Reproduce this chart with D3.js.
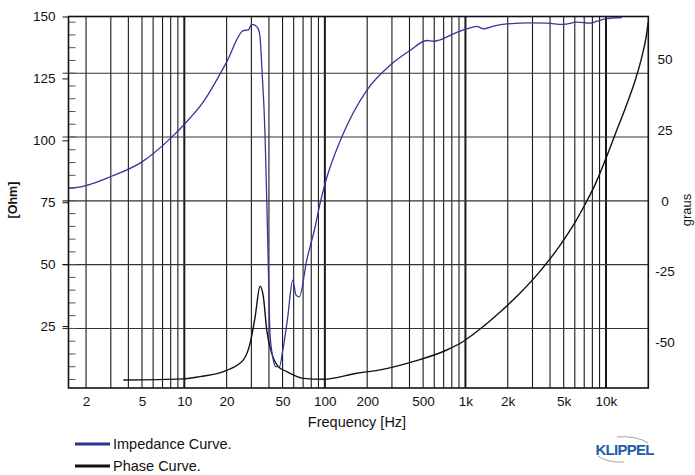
<!DOCTYPE html>
<html>
<head>
<meta charset="utf-8">
<script src="https://cdn.jsdelivr.net/npm/d3@7/dist/d3.min.js"></script>
<style>
  body { margin: 0; background: #fff; }
  text { font-family: "Liberation Sans", Arial, sans-serif; fill: #111; }
</style>
</head>
<body>
<svg id="chart" width="695" height="475"></svg>
<script>
// impedance curve, left axis [Ohm]
const impFreq = [1.5, 1.67, 3.04, 4.97, 8.14, 10.1, 13.65, 20.0, 26.3, 28.5, 30.2, 31.9, 33.6, 34.6, 35.6,
  37.5, 38.6, 39.6, 40.7, 43.0, 44.9, 47.5, 50.2, 54.1, 59.1, 62.4, 65.8, 74.3, 85.2, 92.4, 100.3,
  131.9, 198.7, 299, 404, 531, 592, 661, 821, 1023, 1205, 1343, 1582, 1971, 2888, 3797, 4960,
  6207, 7718, 8612, 9870, 12980];
const impValue = [80.8, 80.9, 85.5, 91.2, 101.3, 106.7, 115.5, 131.6, 144.3, 144.6, 146.8, 146.4, 145.0, 141.6, 129.5,
  102.7, 75.8, 48.9, 22.0, 11.3, 8.6, 8.6, 15.3, 27.4, 43.5, 37.5, 36.8, 51.6, 65.0, 74.5, 82.5,
  101.3, 120.2, 130.9, 136.3, 140.3, 140.0, 140.6, 143.0, 145.0, 146.0, 145.0, 146.1, 147.0, 147.4, 147.3, 146.8,
  147.7, 147.3, 148.1, 149.0, 149.6];

// phase curve, right axis [graus]
const phaseFreq = [3.68, 9.84, 12.9, 20.0, 26.3, 29.4, 31.9, 34.6, 36.5, 38.6, 41.9, 46.7, 53.6, 59.7, 70.3,
  97.6, 168.7, 247, 424, 737, 963, 1272, 1766, 2451, 3402, 4721, 6036, 7112, 8379, 9870, 11630,
  13700, 16140, 18100, 19330, 19970];
const phaseValue = [-63.2, -62.8, -62.0, -59.8, -56.1, -50.2, -40.9, -30.1, -33.8, -45.6, -53.8, -58.5, -60.2, -61.4, -62.6,
  -62.9, -60.8, -59.6, -56.7, -52.6, -49.6, -45.2, -39.2, -32.5, -24.8, -15.6, -7.5, -1.2, 5.8, 14.3, 23.5,
  32.6, 42.5, 51.3, 58.0, 62.9];

const xTickValues = [2, 5, 10, 20, 50, 100, 200, 500, 1000, 2000, 5000, 10000];
const xTickLabels = ["2", "5", "10", "20", "50", "100", "200", "500", "1k", "2k", "5k", "10k"];
const leftTicks = [25, 50, 75, 100, 125, 150];
const rightTicks = [-50, -25, 0, 25, 50];
const rightGrid = [-45, -22.5, 0, 22.5, 45];

const svg = d3.select("#chart");
const plot = { left: 68.5, right: 648.3, top: 16.5, bottom: 388 };

const x = d3.scaleLog().domain([1.5, 20000]).range([plot.left, plot.right]);
const yL = d3.scaleLinear().domain([0, 150]).range([plot.bottom, plot.top]);
const yR = d3.scaleLinear().domain([-66, 65]).range([plot.bottom, plot.top]);

// vertical grid: 2..9, 10..90, ... up to 10k
const vGrid = [];
for (let dec = 1; dec <= 1000; dec *= 10) {
  for (let m = 1; m <= 9; m++) {
    const f = m * dec;
    if (f >= 2) vGrid.push(f);
  }
}
vGrid.push(10000);

svg.append("g").selectAll("line")
  .data(vGrid)
  .enter().append("line")
  .attr("x1", d => x(d)).attr("x2", d => x(d))
  .attr("y1", plot.top).attr("y2", plot.bottom)
  .attr("stroke", "#1a1a1a")
  .attr("stroke-width", d => [10, 100, 1000, 10000].includes(d) ? 2 : 1.1);

// horizontal grid (follows the right scale)
svg.append("g").selectAll("line")
  .data(rightGrid)
  .enter().append("line")
  .attr("x1", plot.left - 6).attr("x2", plot.right)
  .attr("y1", d => yR(d)).attr("y2", d => yR(d))
  .attr("stroke", "#333")
  .attr("stroke-width", 1.1);

// minor ticks on the left side
svg.append("g").selectAll("line")
  .data(d3.range(-63, 64, 4.5))
  .enter().append("line")
  .attr("x1", plot.left).attr("x2", plot.left + 7)
  .attr("y1", d => yR(d)).attr("y2", d => yR(d))
  .attr("stroke", "#555")
  .attr("stroke-width", 1);

// frame
svg.append("rect")
  .attr("x", plot.left).attr("y", plot.top)
  .attr("width", plot.right - plot.left).attr("height", plot.bottom - plot.top)
  .attr("fill", "none").attr("stroke", "#111").attr("stroke-width", 1.6);

// left axis
const gL = svg.append("g").attr("transform", `translate(${plot.left},0)`)
  .call(d3.axisLeft(yL).tickValues(leftTicks).tickSize(6).tickPadding(7));
gL.select(".domain").remove();
gL.selectAll(".tick line").attr("stroke", "#111");
gL.selectAll(".tick text").attr("font-size", 13.5).attr("font-family", "Liberation Sans, Arial, sans-serif").attr("fill", "#111");

// right axis labels
svg.append("g").selectAll("text")
  .data(rightTicks)
  .enter().append("text")
  .attr("x", 665).attr("y", d => yR(d))
  .attr("dy", "0.35em")
  .attr("text-anchor", "middle")
  .attr("font-size", 13.5)
  .text(d => d);

// x axis
const gX = svg.append("g").attr("transform", `translate(0,${plot.bottom})`)
  .call(d3.axisBottom(x).tickValues(xTickValues).tickSize(0).tickPadding(8)
    .tickFormat((d, i) => xTickLabels[i]));
gX.select(".domain").remove();
gX.selectAll(".tick text").attr("font-size", 13.5).attr("font-family", "Liberation Sans, Arial, sans-serif").attr("fill", "#111");

// axis titles
svg.append("text")
  .attr("x", 357).attr("y", 427)
  .attr("text-anchor", "middle")
  .attr("font-size", 14.5)
  .text("Frequency [Hz]");

svg.append("text")
  .attr("transform", "translate(17,200) rotate(-90)")
  .attr("text-anchor", "middle")
  .attr("font-size", 12.5)
  .attr("font-weight", "bold")
  .text("[Ohm]");

svg.append("text")
  .attr("transform", "translate(691,210) rotate(-90)")
  .attr("text-anchor", "middle")
  .attr("font-size", 13)
  .text("graus");

// curves
svg.append("clipPath").attr("id", "plot")
  .append("rect").attr("x", plot.left).attr("y", plot.top)
  .attr("width", plot.right - plot.left).attr("height", plot.bottom - plot.top);

const impLine = d3.line()
  .x((d, i) => x(impFreq[i]))
  .y(d => yL(d))
  .curve(d3.curveMonotoneX);

const phaseLine = d3.line()
  .x((d, i) => x(phaseFreq[i]))
  .y(d => yR(d))
  .curve(d3.curveMonotoneX);

svg.append("path")
  .attr("clip-path", "url(#plot)")
  .attr("d", phaseLine(phaseValue))
  .attr("fill", "none")
  .attr("stroke", "#111")
  .attr("stroke-width", 1.4);

svg.append("path")
  .attr("clip-path", "url(#plot)")
  .attr("d", impLine(impValue))
  .attr("fill", "none")
  .attr("stroke", "#33379a")
  .attr("stroke-width", 1.3);

// legend
const legend = [
  { name: "Impedance Curve.", color: "#2e3192", y: 444 },
  { name: "Phase Curve.", color: "#111", y: 466 }
];
const lg = svg.append("g").selectAll("g").data(legend).enter().append("g");
lg.append("line")
  .attr("x1", 75).attr("x2", 110)
  .attr("y1", d => d.y).attr("y2", d => d.y)
  .attr("stroke", d => d.color).attr("stroke-width", 3);
lg.append("text")
  .attr("x", 113).attr("y", d => d.y)
  .attr("dy", "0.35em")
  .attr("font-size", 14.5)
  .text(d => d.name);

// KLIPPEL logo
const logo = svg.append("g");
logo.append("path")
  .attr("d", "M617,437 A30,14 0 0 1 648,443")
  .attr("fill", "none").attr("stroke", "#999").attr("stroke-width", 0.9);
logo.append("path")
  .attr("d", "M598,456 A26,12 0 0 0 624,462")
  .attr("fill", "none").attr("stroke", "#999").attr("stroke-width", 0.9);
logo.append("text")
  .attr("x", 625).attr("y", 455)
  .attr("text-anchor", "middle")
  .attr("font-size", 15)
  .attr("font-weight", "bold")
  .attr("textLength", 59)
  .style("fill", "#1f60a8")
  .text("KLIPPEL");
</script>
</body>
</html>
